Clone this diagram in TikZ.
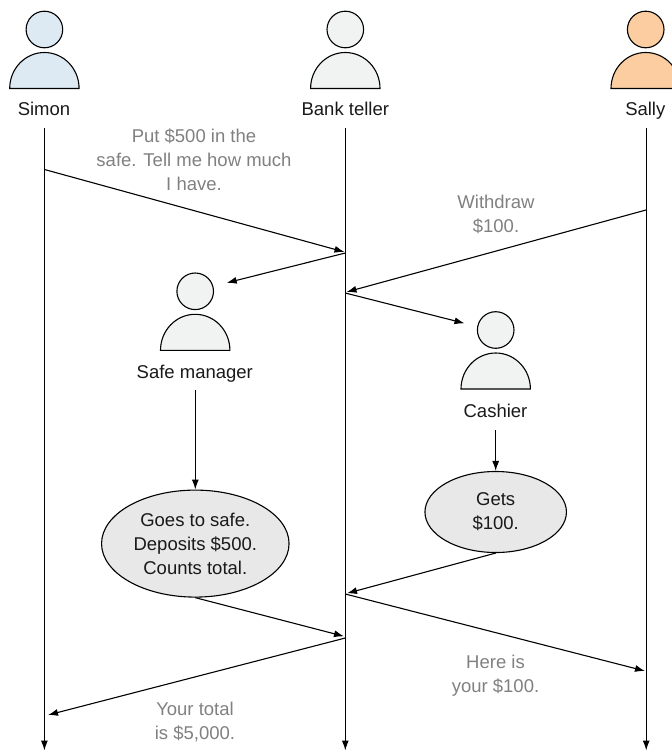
\documentclass[tikz,border=0pt]{standalone}
\usepackage{fontspec}
\setmainfont{Liberation Sans}
\usetikzlibrary{arrows.meta,shapes.geometric}
\definecolor{simonc}{HTML}{DEEAF3}
\definecolor{tellerc}{HTML}{F1F3F2}
\definecolor{sallyc}{HTML}{FBCDA1}
\definecolor{ovalc}{HTML}{E8E8E8}
\definecolor{msgc}{HTML}{808080}
\tikzset{
  every picture/.style={x=1pt,y=-1pt},
  lbl/.style={font=\fontsize{18.5}{24}\selectfont,text=black!90,align=center,inner sep=0pt,anchor=base},
  msg/.style={font=\fontsize{18.5}{24}\selectfont,text=msgc,align=center,inner sep=0pt},
  conn/.style={line width=1.1pt,-{Latex[length=10pt,width=7pt]}},
  oval/.style={draw=black,line width=1.1pt,fill=ovalc,ellipse,inner sep=0pt,font=\fontsize{18.5}{24}\selectfont,text=black!90,align=center},
  outline/.style={draw=black,line width=1.1pt},
  pics/person/.style={code={
    \path[outline,fill=#1] (0,-59) circle[radius=18.3pt];
    \path[outline,fill=#1] (-34.7,0) arc[start angle=180,end angle=0,x radius=34.7pt,y radius=36pt] -- cycle;
  }}
}
\begin{document}
\begin{tikzpicture}
\useasboundingbox (0,0) rectangle (671,751);
% people
\pic at (44.4,88.5) {person=simonc};
\pic at (345.3,88.5) {person=tellerc};
\pic at (645.7,88.5) {person=sallyc};
\pic at (195.2,350.3) {person=tellerc};
\pic at (495.7,389) {person=tellerc};
\node[lbl] (simon) at (44,115.5) {Simon};
\node[lbl] (teller) at (345.3,115.5) {Bank teller};
\node[lbl] (sally) at (645.3,115.5) {Sally};
\node[lbl] (manager) at (194.8,378) {Safe manager};
\node[lbl] (cashier) at (495.5,417) {Cashier};
% ovals
\node[oval,minimum width=187.5pt,minimum height=107pt] (o1) at (195.3,543.6) {Goes to safe.\\Deposits \$500.\\Counts total.};
\node[oval,minimum width=141.5pt,minimum height=81pt] (o2) at (495.7,512) {Gets\\\$100.};
% lifeline ends
\coordinate (s0) at (44.4,128); \coordinate (s1) at (44.4,750.5);
\coordinate (t0) at (345.3,128); \coordinate (t1) at (345.3,750.5);
\coordinate (y0) at (646.2,128); \coordinate (y1) at (646.2,750.5);
\draw[conn] (s0) -- (s1);
\draw[conn] (t0) -- (t1);
\draw[conn] (y0) -- (y1);
% message ends
\coordinate (a) at (44.5,169.5); \coordinate (b) at (344.5,252);
\coordinate (c) at (646,210); \coordinate (d) at (346.5,292);
\coordinate (e) at (345.3,253); \coordinate (f) at (226.7,282.8);
\coordinate (g) at (345.3,293); \coordinate (h) at (464.5,323.3);
\coordinate (i) at (347,593.3); \coordinate (j) at (345.3,594); \coordinate (k) at (645,671);
\coordinate (l) at (344,636.3); \coordinate (m) at (345.3,638); \coordinate (n) at (48,715);
\coordinate (p) at (195.3,390); \coordinate (q) at (495.7,430);
\draw[conn] (a) -- (b);
\draw[conn] (c) -- (d);
\draw[conn] (e) -- (f);
\draw[conn] (g) -- (h);
\draw[conn] (p) -- (o1.north);
\draw[conn] (q) -- (o2.north);
\draw[conn] (o2.south) -- (i);
\draw[conn] (o1.south) -- (l);
\draw[conn] (m) -- (n);
\draw[conn] (j) -- (k);
% message labels
\node[msg] (m1) at (194,159.3) {Put \$500 in the\\safe. Tell me how much\\I have.};
\node[msg] (m2) at (496,214.3) {Withdraw\\\$100.};
\node[msg] (m3) at (495.5,676) {Here is\\your \$100.};
\node[msg] (m4) at (195,722.3) {Your total\\is \$5,000.};
\end{tikzpicture}
\end{document}
